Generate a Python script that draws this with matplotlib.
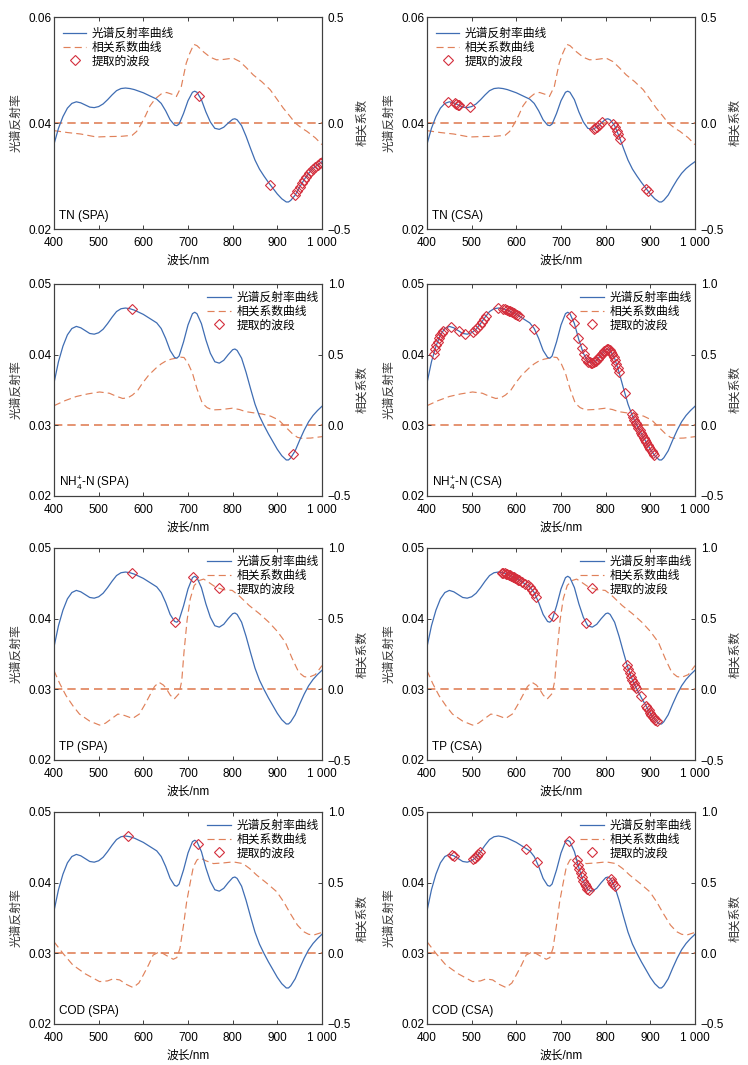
import numpy as np
import matplotlib
matplotlib.use("Agg")
import matplotlib.pyplot as plt
from matplotlib.lines import Line2D

plt.rcParams['font.family'] = ['Liberation Sans', 'Noto Sans CJK SC', 'DejaVu Sans']
plt.rcParams['font.size'] = 8
plt.rcParams['axes.unicode_minus'] = True
plt.rcParams['mathtext.fontset'] = 'custom'
plt.rcParams['mathtext.rm'] = 'Liberation Sans'
plt.rcParams['mathtext.it'] = 'Liberation Sans:italic'

# ---------------- data ----------------
refl_wl = [400, 410, 420, 430, 440, 450, 460, 470, 480, 490, 500, 510, 520, 530, 540, 550,
           560, 570, 580, 590, 600, 610, 620, 630, 640, 650, 660, 670, 675, 680, 690, 700,
           710, 715, 720, 730, 740, 750, 760, 770, 780, 790, 800, 805, 810, 820, 830, 840,
           850, 860, 870, 880, 890, 900, 910, 920, 925, 930, 940, 950, 960, 970, 980, 990, 1000]
refl = [0.0360, 0.0390, 0.0412, 0.0428, 0.0437, 0.0440, 0.0438, 0.0434, 0.0430, 0.0429,
        0.0431, 0.0436, 0.0444, 0.0453, 0.0461, 0.0465, 0.0466, 0.0465, 0.0463, 0.0460,
        0.0457, 0.0453, 0.0449, 0.0445, 0.0437, 0.0423, 0.0406, 0.0396, 0.0395, 0.0398,
        0.0418, 0.0442, 0.0458, 0.0460, 0.0458, 0.0444, 0.0421, 0.0402, 0.0390, 0.0388,
        0.0392, 0.0400, 0.0407, 0.0408, 0.0406, 0.0395, 0.0375, 0.0352, 0.0330, 0.0313,
        0.0300, 0.0288, 0.0277, 0.0266, 0.0257, 0.0251, 0.0251, 0.0254, 0.0264, 0.0279,
        0.0293, 0.0305, 0.0314, 0.0321, 0.0327]

tn_wl = [400, 430, 460, 495, 520, 550, 575, 585, 595, 605, 615, 627, 640, 652, 665, 674, 685,
         696, 704, 713, 720, 735, 750, 764, 780, 801, 816, 830, 846, 865, 884, 900, 913, 927,
         940, 955, 966, 985, 1000]
tn_r = [-0.036, -0.045, -0.052, -0.066, -0.064, -0.063, -0.058, -0.040, -0.005, 0.035, 0.081,
        0.115, 0.137, 0.144, 0.135, 0.125, 0.172, 0.282, 0.329, 0.371, 0.365, 0.335, 0.310,
        0.298, 0.300, 0.306, 0.290, 0.262, 0.227, 0.195, 0.157, 0.110, 0.071, 0.035, 0.000,
        -0.025, -0.039, -0.070, -0.102]

nh_wl = [400, 425, 450, 475, 502, 524, 540, 554, 566, 576, 588, 598, 612, 628, 640, 651, 662,
         673, 684, 691, 700, 710, 720, 732, 743, 755, 775, 799, 815, 829, 850, 866, 885, 903,
         918, 933, 945, 955, 975, 1000]
nh_r = [0.139, 0.175, 0.204, 0.222, 0.236, 0.227, 0.205, 0.190, 0.196, 0.215, 0.250, 0.298,
        0.355, 0.404, 0.435, 0.456, 0.468, 0.475, 0.482, 0.480, 0.440, 0.369, 0.260, 0.156,
        0.125, 0.109, 0.112, 0.121, 0.112, 0.097, 0.087, 0.080, 0.065, 0.038, -0.010, -0.057,
        -0.085, -0.092, -0.090, -0.080]

tp_wl = [400, 413, 427, 442, 457, 480, 502, 515, 530, 543, 558, 576, 591, 603, 614, 625, 635,
         645, 651, 660, 669, 680, 686, 691, 698, 705, 714, 725, 735, 745, 762, 780, 799, 815,
         837, 860, 881, 900, 918, 933, 948, 960, 970, 985, 1000]
tp_r = [0.132, 0.040, -0.045, -0.115, -0.175, -0.225, -0.253, -0.240, -0.205, -0.175, -0.185,
        -0.206, -0.175, -0.110, -0.045, 0.020, 0.050, 0.030, 0.007, -0.040, -0.069, -0.030,
        0.060, 0.262, 0.490, 0.640, 0.735, 0.770, 0.780, 0.760, 0.723, 0.705, 0.700, 0.660,
        0.593, 0.535, 0.475, 0.410, 0.333, 0.220, 0.120, 0.090, 0.085, 0.104, 0.168]

cod_wl = [400, 420, 442, 470, 502, 520, 532, 547, 562, 577, 590, 600, 612, 622, 637, 652, 667,
          675, 682, 690, 697, 705, 712, 720, 727, 740, 757, 780, 801, 823, 838, 854, 875, 899,
          915, 929, 945, 959, 970, 981, 1000]
cod_r = [0.082, 0.000, -0.082, -0.145, -0.200, -0.195, -0.181, -0.188, -0.220, -0.242, -0.210,
         -0.153, -0.080, -0.012, 0.012, -0.016, -0.042, -0.030, 0.035, 0.200, 0.365, 0.500,
         0.612, 0.660, 0.675, 0.655, 0.635, 0.640, 0.647, 0.635, 0.600, 0.553, 0.500, 0.435,
         0.360, 0.282, 0.200, 0.153, 0.135, 0.129, 0.148]

# selected wavelengths (nm)
tn_spa = [725, 884, 940, 945, 950, 955, 960, 965, 970, 975, 980, 985, 990, 995, 1000]
tn_csa = [446, 463, 466, 469, 472, 497, 774, 777, 781, 786, 792, 817, 821, 825, 828, 832, 891, 895]
nh_spa = [574, 936]
nh_csa = ([415, 418, 421, 424, 427, 430, 433, 436, 454, 471, 486,
           503, 508, 512, 518, 523, 527, 533, 558,
           571, 575, 579, 583, 586, 590, 594, 598, 602, 605, 640,
           722, 729, 739, 746, 751, 757] +
          list(range(761, 831, 3)) + [843] + list(range(858, 910, 3)))
tp_spa = [574, 671, 712]
tp_csa = ([568, 571, 574, 577, 580, 583, 586, 589, 592, 595, 598, 601, 604, 607,
           612, 620, 625, 630, 635, 640, 645, 683, 757,
           848, 851, 854, 857, 860, 863, 866, 869, 878, 890, 893, 896, 899, 902, 905, 908, 911, 914])
cod_spa = [565, 722]
cod_csa = [456, 460, 504, 508, 512, 515, 519, 622, 646, 719,
           735, 738, 741, 744, 747, 750, 753, 756, 759, 762, 811, 814, 817, 820]

panels = [
    ("TN (SPA)", tn_wl, tn_r, tn_spa, "TN"),
    ("TN (CSA)", tn_wl, tn_r, tn_csa, "TN"),
    (r"NH$_4^{+}$-N (SPA)", nh_wl, nh_r, nh_spa, "X"),
    (r"NH$_4^{+}$-N (CSA)", nh_wl, nh_r, nh_csa, "X"),
    ("TP (SPA)", tp_wl, tp_r, tp_spa, "X"),
    ("TP (CSA)", tp_wl, tp_r, tp_csa, "X"),
    ("COD (SPA)", cod_wl, cod_r, cod_spa, "X"),
    ("COD (CSA)", cod_wl, cod_r, cod_csa, "X"),
]

legend_labels = ["光谱反射率曲线", "相关系数曲线", "提取的波段"]
xticks = [400, 500, 600, 700, 800, 900, 1000]
xticklabels = ["400", "500", "600", "700", "800", "900", "1 000"]

# ---------------- style ----------------
BLUE = "#3f6db3"
ORANGE = "#e0815a"
RED = "#d42e3c"
SPINE = "#404040"

fig = plt.figure(figsize=(7.48, 10.65), dpi=100)
W, H = 748, 1065
col_left = [54, 427]
ax_w = 268
row_top = [17, 284, 548, 812]
ax_h = 212

for i, (label, cwl, cr, sel, kind) in enumerate(panels):
    r, c = divmod(i, 2)
    rect = [col_left[c] / W, 1 - (row_top[r] + ax_h) / H, ax_w / W, ax_h / H]
    ax = fig.add_axes(rect)
    ax2 = ax.twinx()
    ax.set_zorder(ax2.get_zorder() + 1)
    ax.patch.set_visible(False)

    # correlation
    ax2.plot(cwl, cr, color=ORANGE, lw=0.85, dashes=(6, 3.5))
    ax2.axhline(0.0, color=ORANGE, lw=1.2, dashes=(5, 3))
    # reflectance
    ax.plot(refl_wl, refl, color=BLUE, lw=0.9)
    sel_y = np.interp(sel, refl_wl, refl)
    ax.plot(sel, sel_y, ls='none', marker='D', ms=4.6, mfc='none', mec=RED, mew=0.8)

    ax.set_xlim(400, 1000)
    ax.set_xticks(xticks)
    ax.set_xticklabels(xticklabels)
    if kind == "TN":
        ax.set_ylim(0.02, 0.06)
        ax.set_yticks([0.02, 0.04, 0.06])
        ax.set_yticklabels(["0.02", "0.04", "0.06"])
        ax2.set_ylim(-0.5, 0.5)
        ax2.set_yticks([-0.5, 0.0, 0.5])
        ax2.set_yticklabels(["\u22120.5", "0.0", "0.5"])
    else:
        ax.set_ylim(0.02, 0.05)
        ax.set_yticks([0.02, 0.03, 0.04, 0.05])
        ax.set_yticklabels(["0.02", "0.03", "0.04", "0.05"])
        ax2.set_ylim(-0.5, 1.0)
        ax2.set_yticks([-0.5, 0.0, 0.5, 1.0])
        ax2.set_yticklabels(["\u22120.5", "0.0", "0.5", "1.0"])

    for a in (ax, ax2):
        for s in a.spines.values():
            s.set_color(SPINE)
            s.set_linewidth(0.8)
        a.tick_params(direction='in', length=3, width=0.7, color=SPINE, labelsize=8.5)
    ax.tick_params(axis='y', pad=2)
    ax.tick_params(axis='x', pad=6, top=True)
    ax2.tick_params(axis='y', pad=4)

    ax.set_xlabel("波长/nm", fontsize=8.5, labelpad=4)
    ax.set_ylabel("光谱反射率", fontsize=8.5, labelpad=4, color="#333333")
    ax2.set_ylabel("相关系数", fontsize=8.5, labelpad=4, color="#333333")

    ax.text(0.02, 0.06, label, transform=ax.transAxes, fontsize=8.5, ha='left', va='center')

    handles = [Line2D([], [], color=BLUE, lw=0.9),
               Line2D([], [], color=ORANGE, lw=0.85, dashes=(6, 3.5)),
               Line2D([], [], ls='none', marker='D', ms=4.6, mfc='none', mec=RED, mew=0.8)]
    if kind == "TN":
        ax.legend(handles, legend_labels, loc='upper left', bbox_to_anchor=(0.0, 0.99),
                  frameon=False, fontsize=8.5,
                  handlelength=2.0, handletextpad=0.45, labelspacing=0.15,
                  borderaxespad=0.45, borderpad=0.3)
    else:
        ax.legend(handles, legend_labels, loc='upper right', bbox_to_anchor=(1.0, 0.979),
                  frameon=False, fontsize=8.5,
                  handlelength=2.0, handletextpad=0.45, labelspacing=0.15,
                  borderaxespad=0.0, borderpad=0.3)

fig.savefig("out.png", dpi=100)
